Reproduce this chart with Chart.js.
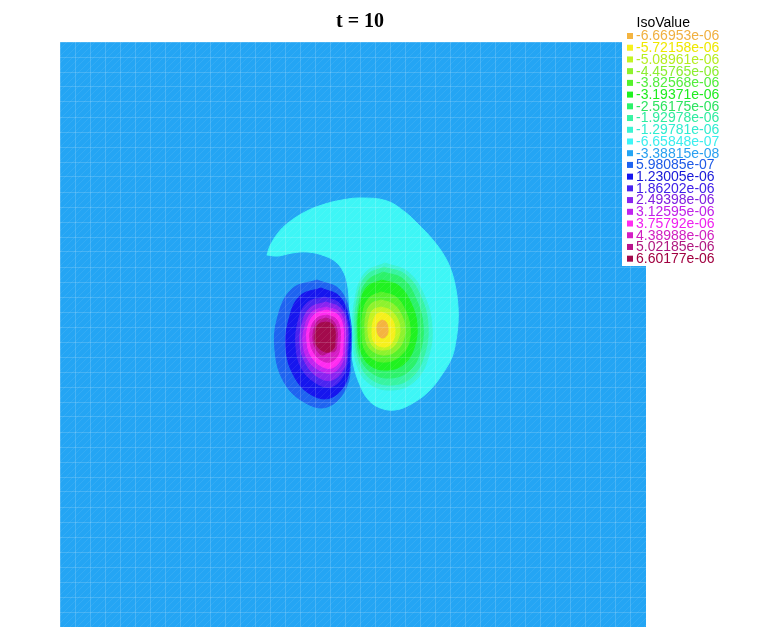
<!DOCTYPE html>
<html>
<head>
<meta charset="utf-8">
<script src="https://cdn.jsdelivr.net/npm/chart.js@4/dist/chart.umd.min.js"></script>
<style>
html,body{margin:0;padding:0;background:#ffffff;}
#wrap{width:764px;height:635px;position:relative;}
</style>
</head>
<body>
<div id="wrap"><canvas id="c" width="764" height="635"></canvas></div>
<script>
// ---------- text ----------
const titleText = 't = 10';
const legendTitle = 'IsoValue';
const isoLabels = [
  '-6.66953e-06','-5.72158e-06','-5.08961e-06','-4.45765e-06','-3.82568e-06',
  '-3.19371e-06','-2.56175e-06','-1.92978e-06','-1.29781e-06','-6.65848e-07',
  '-3.38815e-08','5.98085e-07','1.23005e-06','1.86202e-06','2.49398e-06',
  '3.12595e-06','3.75792e-06','4.38988e-06','5.02185e-06','6.60177e-06'
];

// ---------- domain (data units) ----------
const domainX = [0, 586];
const domainY = [0, 585];

// ---------- iso-region outlines (x, y in domain units) ----------
// negative lobe (levels 1..9)
const isoLine01 = [[322,307],[326,305],[328,298],[327,292],[323,289],[319,291],[317,297],[318,304]];
const isoLine02 = [[321,315],[328,312],[333,306],[335,297],[334,289],[330,282],[324,280],[317,282],[313,287],[312,296],[313,305],[316,312]];
const isoLine03 = [[321,320],[330,317],[337,309],[340,298],[338,288],[333,280],[324,277],[315,279],[310,286],[308,296],[309,308],[313,317]];
const isoLine04 = [[321,327],[333,323],[341,313],[345,299],[343,286],[336,276],[325,272],[314,275],[307,283],[305,297],[306,312],[311,323]];
const isoLine05 = [[321,335],[336,330],[345,317],[350,300],[348,282],[339,270],[326,265],[313,268],[304,279],[302,296],[303,315],[309,329]];
const isoLine06 = [[322,347],[339,341],[351,324],[357,302],[354,279],[344,263],[328,257],[311,261],[301,275],[298,297],[300,322],[307,340]];
const isoLine07 = [[323,355],[343,348],[356,328],[363,302],[360,275],[349,256],[330,249],[312,254],[300,270],[297,297],[299,325],[307,346]];
const isoLine08 = [[324,360],[346,352],[361,330],[368,301],[364,271],[352,250],[332,242],[311,248],[299,266],[295,295],[297,327],[306,351]];
const isoLine09 = [[325,364],[348,355],[364,332],[372,300],[368,269],[355,246],[333,237],[310,243],[297,262],[293,294],[295,328],[305,354]];
// crescent (level 10)
const isoLine10 = [[207,372],[210,381],[218,394],[228,404],[245,415],[262,422],[282,427],[302,429],[327,426],[345,415],[357,404],[373,387],[385,370],[392,354],[396,337],[398,320],[398,304],[396,287],[392,270],[383,254],[370,237],[353,224],[335,217],[318,220],[307,229],[300,242],[294,260],[291,282],[290,307],[289,329],[287,345],[283,356],[276,365],[265,371],[248,375],[232,374],[218,371]];
// whole domain (level 11)
const isoLine11 = [[0,0],[586,0],[586,585],[0,585]];
// positive lobe (levels 12..20)
const isoLine12 = [[257,347],[280,337],[290,309],[291,273],[286,239],[267,220],[244,225],[224,245],[215,277],[218,311],[232,338]];
const isoLine13 = [[261,339],[280,330],[289,306],[290,275],[286,245],[270,229],[250,233],[234,251],[226,278],[229,308],[240,331]];
const isoLine14 = [[265,330],[280,323],[288,303],[288,278],[284,253],[271,240],[256,244],[242,258],[236,280],[238,305],[247,324]];
const isoLine15 = [[266,325],[280,319],[287,302],[287,280],[284,259],[272,247],[258,250],[246,263],[240,282],[242,303],[250,319]];
const isoLine16 = [[266,320],[279,315],[285,300],[285,282],[282,264],[272,254],[259,257],[248,267],[243,284],[245,301],[252,315]];
const isoLine17 = [[267,317],[278,312],[283,300],[283,283],[281,268],[272,259],[261,261],[251,271],[247,285],[248,301],[255,313]];
const isoLine18 = [[267,312],[276,308],[280,298],[280,285],[278,272],[270,265],[261,267],[254,274],[250,286],[251,299],[257,309]];
const isoLine19 = [[266,309],[273,306],[277,297],[277,286],[275,276],[269,275],[262,272],[256,278],[253,287],[254,298],[258,306]];
const isoLine20 = [[266,305],[272,303],[275,296],[275,288],[274,279],[269,275],[263,276],[257,281],[255,288],[256,297],[259,303]];

// ---------- styles ----------
const fillColors = [
  '#f4b440','#f6f01c','#c2f422','#8ef22e','#56f22c',
  '#20f220','#2cf26a','#38f4a2','#3cf4d2','#3ef6f6',
  '#24a5f4','#1e64f0','#1616ee','#4a24f0','#8a24f0',
  '#c024f0','#ff2cf0','#d41ec4','#b8148c','#a30a4c'
];
const textColors = [
  '#f0b040','#eee800','#b6ee20','#8cee30','#52ee3c',
  '#1eec1e','#2ee460','#30eca0','#30ecd0','#3ceeee',
  '#2aa0f0','#1e5ae6','#1818d8','#4020e8','#8020e0',
  '#c020e8','#f020f0','#d020c0','#b01880','#a00040'
];

// draw sequence: background domain, crescent, positive lobe outward->inward, negative lobe outward->inward
const drawSequence = [
  [10, isoLine11], [9, isoLine10],
  [11, isoLine12], [12, isoLine13], [13, isoLine14], [14, isoLine15], [15, isoLine16],
  [16, isoLine17], [17, isoLine18], [18, isoLine19], [19, isoLine20],
  [8, isoLine09], [7, isoLine08], [6, isoLine07], [5, isoLine06], [4, isoLine05],
  [3, isoLine04], [2, isoLine03], [1, isoLine02], [0, isoLine01]
];

const datasets = drawSequence.map(([lvl, pts], i) => {
  const closed = pts.concat([pts[0]]);
  return {
    label: isoLabels[lvl],
    data: closed.map(p => ({x: p[0], y: p[1]})),
    showLine: true,
    fill: 'shape',
    backgroundColor: fillColors[lvl],
    borderColor: fillColors[lvl],
    borderWidth: lvl === 10 ? 0 : 1,
    pointRadius: 0,
    pointHoverRadius: 0,
    tension: lvl === 10 ? 0 : 0.4,
    order: drawSequence.length - i
  };
});

// ---------- plugins ----------
const hatchPlugin = {
  id: 'hatch',
  afterDatasetsDraw(chart) {
    const {ctx, chartArea: a} = chart;
    ctx.save();
    ctx.beginPath();
    ctx.rect(a.left, a.top, a.right - a.left, a.bottom - a.top);
    ctx.clip();
    ctx.strokeStyle = 'rgba(255,255,255,0.07)';
    ctx.lineWidth = 1;
    const h = a.bottom - a.top;
    ctx.beginPath();
    for (let x = a.left - h; x < a.right; x += 7) {
      ctx.moveTo(x, a.bottom);
      ctx.lineTo(x + h, a.top);
    }
    ctx.stroke();
    ctx.restore();
  }
};

const overlayPlugin = {
  id: 'overlay',
  afterDraw(chart) {
    const {ctx} = chart;
    ctx.save();
    // title
    ctx.fillStyle = '#000';
    ctx.font = 'bold 20px "Liberation Serif", "Times New Roman", serif';
    ctx.textAlign = 'center';
    ctx.textBaseline = 'middle';
    ctx.fillText(titleText, 360, 22);
    // legend box
    ctx.fillStyle = '#ffffff';
    ctx.fillRect(622, 30, 142, 236);
    ctx.textAlign = 'left';
    ctx.font = '14px "Liberation Sans", Arial, sans-serif';
    ctx.fillStyle = '#000';
    ctx.fillText(legendTitle, 636.5, 23.5);
    for (let i = 0; i < isoLabels.length; i++) {
      const y = 36 + i * 11.72;
      ctx.fillStyle = fillColors[i];
      ctx.fillRect(627, y - 3, 6, 6);
      ctx.fillStyle = textColors[i];
      ctx.fillText(isoLabels[i], 636, y + 0.5);
    }
    ctx.restore();
  }
};

const gridColor = 'rgba(255,255,255,0.16)';

new Chart(document.getElementById('c'), {
  type: 'scatter',
  data: {datasets},
  options: {
    responsive: false,
    animation: false,
    devicePixelRatio: 1,
    events: [],
    layout: {padding: {left: 60, right: 118, top: 42, bottom: 8}},
    plugins: {
      legend: {display: false},
      title: {display: false},
      tooltip: {enabled: false}
    },
    scales: {
      x: {
        type: 'linear', min: domainX[0], max: domainX[1],
        ticks: {display: false, stepSize: 15},
        grid: {color: gridColor, drawTicks: false, lineWidth: 1, z: 1},
        border: {display: false}
      },
      y: {
        type: 'linear', min: domainY[0], max: domainY[1],
        ticks: {display: false, stepSize: 15},
        grid: {color: gridColor, drawTicks: false, lineWidth: 1, z: 1},
        border: {display: false}
      }
    }
  },
  plugins: [hatchPlugin, overlayPlugin]
});
</script>
</body>
</html>
